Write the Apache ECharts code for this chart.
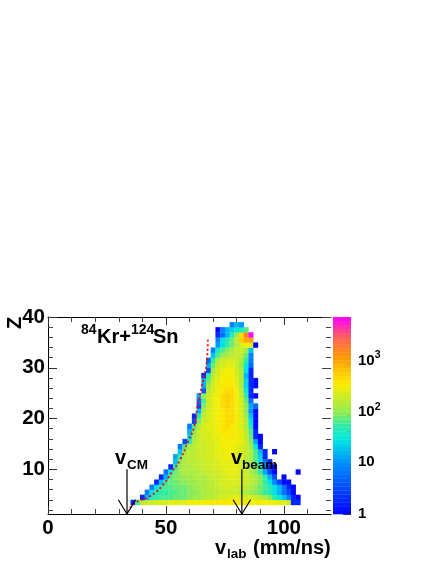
<!DOCTYPE html>
<html lang="en">
<head>
    <meta charset="UTF-8">
    <title>Kr+Sn</title>
    <script src="https://cdn.jsdelivr.net/npm/echarts@6/dist/echarts.min.js"></script>
    <style>
        html, body { margin: 0; padding: 0; background: #fff; }
    </style>
</head>
<body>
<div id="main" style="width: 436px; height: 564px"></div>
<script type="text/javascript">
    // bins are 2 mm/ns wide and one Z high, first bin of each row in rowStart
    var rowZ = [3, 4, 5, 6, 7, 8, 9, 10, 11, 12, 13, 14, 15, 16, 17, 18, 19, 20, 21, 22, 23, 24, 25, 26, 27, 28, 29, 30, 31, 32, 33, 34, 35, 36, 37, 38];
    var rowStart = [35, 39, 41, 43, 45, 47, 49, 51, 53, 53, 55, 55, 57, 59, 59, 59, 61, 61, 63, 63, 63, 63, 65, 65, 65, 65, 67, 67, 67, 69, 69, 71, 71, 71, 71, 77];
    var rowCounts = [
        [2, 60, 140, 170, 190, 210, 220, 230, 240, 250, 260, 270, 280, 290, 300, 310, 320, 330, 330, 340, 340, 350, 340, 340, 330, 320, 320, 310, 300, 290, 280, 270, 260, 170, 2, 2],
        [2, 14, 45, 55, 60, 60, 65, 70, 75, 80, 90, 100, 110, 125, 140, 160, 180, 200, 220, 240, 240, 230, 220, 210, 190, 160, 125, 85, 55, 33, 18, 7, 2, 1],
        [8, 25, 45, 50, 55, 60, 65, 70, 75, 85, 95, 105, 120, 135, 145, 160, 170, 175, 175, 165, 150, 130, 110, 90, 70, 55, 40, 25, 14, 6, 3, 1],
        [8, 28, 50, 60, 65, 70, 75, 80, 85, 100, 110, 125, 140, 155, 170, 185, 195, 195, 185, 165, 145, 125, 100, 80, 60, 42, 28, 16, 6, 2, 1],
        [2, 18, 55, 75, 80, 85, 95, 100, 110, 120, 130, 145, 160, 180, 200, 215, 225, 215, 195, 170, 145, 115, 85, 50, 25, 9, 3, 1, 1],
        [2, 16, 60, 85, 95, 100, 110, 120, 125, 135, 150, 165, 180, 200, 225, 235, 225, 200, 170, 145, 115, 85, 50, 16, 4, 0, 1],
        [6, 30, 75, 105, 115, 125, 135, 140, 150, 165, 180, 200, 225, 245, 250, 235, 205, 170, 135, 95, 55, 12, 3, 1, 0, 0, 0, 0, 1],
        [2, 50, 100, 125, 135, 145, 155, 165, 180, 195, 215, 240, 260, 265, 245, 215, 175, 135, 90, 45, 8, 2, 1],
        [18, 85, 125, 140, 150, 160, 170, 185, 205, 225, 250, 270, 265, 235, 190, 150, 110, 65, 25, 6, 2],
        [12, 50, 115, 140, 155, 165, 180, 195, 220, 240, 265, 285, 280, 245, 200, 160, 115, 65, 20, 2],
        [18, 100, 140, 155, 165, 180, 195, 220, 245, 270, 295, 290, 255, 210, 170, 120, 65, 16, 2, 0, 1],
        [7, 60, 130, 160, 175, 190, 205, 230, 255, 285, 305, 300, 265, 220, 170, 105, 32, 2],
        [3, 42, 135, 170, 190, 205, 225, 250, 285, 320, 325, 285, 235, 170, 85, 12, 1],
        [20, 110, 170, 200, 215, 235, 265, 300, 335, 340, 300, 240, 170, 80, 2, 1],
        [15, 90, 170, 205, 225, 250, 285, 330, 370, 360, 310, 240, 150, 60, 2],
        [7, 60, 160, 205, 235, 265, 310, 360, 400, 385, 320, 230, 130, 40, 1],
        [3, 85, 185, 225, 260, 300, 360, 410, 400, 325, 235, 120, 28, 1],
        [2, 50, 160, 215, 250, 300, 375, 440, 420, 330, 225, 105, 18, 1],
        [15, 135, 205, 250, 310, 390, 460, 430, 325, 215, 90, 10, 1],
        [3, 90, 190, 240, 310, 400, 470, 440, 320, 205, 85, 12, 5],
        [5, 60, 180, 240, 310, 410, 480, 450, 320, 195, 70, 6],
        [12, 100, 190, 250, 320, 410, 470, 440, 305, 170, 50, 2, 1],
        [4, 145, 225, 295, 380, 430, 400, 280, 150, 30, 2],
        [12, 110, 205, 270, 340, 390, 370, 260, 130, 22, 2, 1],
        [14, 75, 180, 250, 315, 350, 340, 235, 120, 22, 2, 1],
        [2, 50, 155, 230, 285, 320, 310, 220, 115, 15, 2],
        [4, 110, 200, 255, 285, 280, 205, 115, 25, 2],
        [12, 75, 165, 220, 245, 250, 190, 105, 32, 5],
        [5, 50, 115, 165, 200, 220, 180, 120, 50, 8],
        [18, 60, 100, 130, 160, 175, 150, 80, 7],
        [8, 35, 65, 95, 125, 165, 165, 100, 18],
        [10, 28, 55, 80, 125, 195, 300, 250, 1],
        [8, 25, 45, 70, 140, 500, 800, 1000],
        [2, 5, 14, 40, 100, 400, 1500, 6000],
        [1, 7, 16, 22, 30, 45, 60],
        [8, 14, 10]
    ];
    var binWidth = 2;

    // red dotted curve, [v, Z]
    var curvePoints = [[33.9, 1.6], [36.9, 3.4], [43.2, 4.7], [48.7, 6.9], [52.5, 9.5], [55.9, 11.8], [59.3, 15.4], [61.9, 18.3], [63.6, 23], [65.7, 27.4], [67.4, 31.5], [67.8, 35.9]];

    // arrows at vCM and vbeam
    var vCM = 33.5;
    var vBeam = 82.2;
    var arrowTopZ = 10;
    var arrowArmZ = 4;
    var arrowArmV = 3.7;

    var xRange = [0, 120];
    var yRange = [1.2, 40];
    var zRange = [1, 6500];
    var xMajor = [0, 50, 100];
    var xMinor = [10, 20, 30, 40, 60, 70, 80, 90, 110];
    var yMajor = [10, 20, 30, 40];
    var yMinor = [2, 4, 6, 8, 12, 14, 16, 18, 22, 24, 26, 28, 32, 34, 36, 38];
    var zMajor = [1, 10, 100, 1000];
    var zMinor = [2, 3, 4, 5, 6, 7, 8, 9, 20, 30, 40, 50, 60, 70, 80, 90, 200, 300, 400, 500, 600, 700, 800, 900, 2000, 3000, 4000, 5000, 6000];

    var colorPos = [0, 0.26, 0.38, 0.45, 0.52, 0.66, 0.8, 0.9, 1];
    var colorStops = [[0, 0, 255], [0, 144, 255], [0, 232, 224], [48, 235, 165], [150, 235, 80], [250, 238, 0], [255, 150, 0], [255, 96, 96], [255, 0, 255]];
    var nLevels = 50;

    function levelColor(level) {
        var t = (level + 0.5) / nLevels;
        var i = 0;
        while (i < colorPos.length - 2 && t > colorPos[i + 1]) i++;
        var f = (t - colorPos[i]) / (colorPos[i + 1] - colorPos[i]);
        var a = colorStops[i], b = colorStops[i + 1];
        return 'rgb(' + Math.round(a[0] + (b[0] - a[0]) * f) + ',' + Math.round(a[1] + (b[1] - a[1]) * f) + ',' + Math.round(a[2] + (b[2] - a[2]) * f) + ')';
    }
    function countColor(v) {
        var level = Math.floor(Math.log10(v) / Math.log10(zRange[1]) * nLevels);
        return levelColor(Math.min(nLevels - 1, Math.max(0, level)));
    }

    var cells = [];
    rowZ.forEach(function (z, r) {
        rowCounts[r].forEach(function (n, i) {
            if (n > 0) cells.push([rowStart[r] + i * binWidth, z, n]);
        });
    });
    var barLevels = [];
    for (var l = 0; l < nLevels; l++) {
        barLevels.push([l, Math.pow(zRange[1], l / nLevels), Math.pow(zRange[1], (l + 1) / nLevels)]);
    }

    var fontName = '"Liberation Sans", Arial, sans-serif';
    function tickAxis(pos, range, major, values, len, grid, label) {
        var axis = {
            type: 'value', position: pos, gridIndex: grid || 0, min: range[0], max: range[1],
            splitLine: { show: false },
            axisLine: { show: major, onZero: false, lineStyle: { color: '#000', width: 1 } },
            axisTick: { show: true, inside: true, length: len, customValues: values, lineStyle: { color: major ? '#333' : '#444', width: 1 } },
            axisLabel: { show: false }
        };
        if (label) {
            axis.axisLabel = { show: true, customValues: values, color: '#000', fontFamily: fontName, fontWeight: 'bold', fontSize: 20.5, margin: label, hideOverlap: false };
        }
        return axis;
    }

    var zAxis = tickAxis('right', zRange, false, zMajor, 8, 1, 7);
    zAxis.type = 'log';
    zAxis.axisLabel.fontSize = 15;
    zAxis.axisLabel.formatter = function (v) {
        if (v < 100) return '' + v;
        return '{b|10}{s|' + Math.round(Math.log10(v)) + '}';
    };
    zAxis.axisLabel.rich = {
        b: { fontFamily: fontName, fontWeight: 'bold', fontSize: 15, color: '#000', padding: [3, 0, 0, 0] },
        s: { fontFamily: fontName, fontWeight: 'bold', fontSize: 10.5, color: '#000', verticalAlign: 'top' }
    };
    var zAxisMinor = tickAxis('right', zRange, false, zMinor, 4, 1);
    zAxisMinor.type = 'log';

    function txt(str, x, y, size, rot) {
        return {
            type: 'text', x: x, y: y, rotation: rot || 0, z: 20,
            style: { text: str, fill: '#000', fontFamily: fontName, fontWeight: 'bold', fontSize: size, textAlign: 'left', textVerticalAlign: 'middle' }
        };
    }
    function lineSeries(pts, color, width, type, smooth) {
        return {
            type: 'line', data: pts, symbol: 'none', smooth: !!smooth, clip: false, silent: true, z: 5,
            lineStyle: { color: color, width: width, type: type || 'solid' }
        };
    }

    var myChart = echarts.init(document.getElementById('main'));
    var option = {
        animation: false,
        backgroundColor: '#fff',
        grid: [
            { left: 48, top: 317, width: 283, height: 197 },
            { left: 333, top: 317, width: 18, height: 197 }
        ],
        xAxis: [
            tickAxis('bottom', xRange, true, xMajor, 8, 0, 4),
            tickAxis('bottom', xRange, false, xMinor, 5),
            tickAxis('top', xRange, true, xMajor, 8),
            tickAxis('top', xRange, false, xMinor, 5),
            { type: 'value', gridIndex: 1, min: 0, max: 1, show: false }
        ],
        yAxis: [
            tickAxis('left', yRange, true, yMajor, 9, 0, 3),
            tickAxis('left', yRange, false, yMinor, 5),
            tickAxis('right', yRange, false, yMajor, 9),
            tickAxis('right', yRange, false, yMinor, 5),
            zAxis,
            zAxisMinor
        ],
        series: [
            {
                type: 'custom', silent: true, clip: true, data: cells, encode: { x: 0, y: 1 },
                renderItem: function (params, api) {
                    var a = api.coord([api.value(0), api.value(1)]);
                    var b = api.coord([api.value(0) + binWidth, api.value(1) + 1]);
                    return {
                        type: 'rect',
                        shape: { x: a[0], y: b[1], width: b[0] - a[0] + 0.3, height: a[1] - b[1] + 0.3 },
                        style: { fill: countColor(api.value(2)) }
                    };
                }
            },
            lineSeries(curvePoints, '#f00', 1.8, [2, 2.5], true),
            lineSeries([[vCM, arrowTopZ], [vCM, yRange[0]]], '#000', 1.2),
            lineSeries([[vCM - arrowArmV, arrowArmZ], [vCM, yRange[0]], [vCM + arrowArmV, arrowArmZ]], '#000', 1.2),
            lineSeries([[vBeam, arrowTopZ], [vBeam, yRange[0]]], '#000', 1.2),
            lineSeries([[vBeam - arrowArmV, arrowArmZ], [vBeam, yRange[0]], [vBeam + arrowArmV, arrowArmZ]], '#000', 1.2),
            {
                type: 'custom', silent: true, xAxisIndex: 4, yAxisIndex: 4, data: barLevels, encode: { y: [1, 2] },
                renderItem: function (params, api) {
                    var a = api.coord([0, api.value(1)]);
                    var b = api.coord([1, api.value(2)]);
                    return {
                        type: 'rect',
                        shape: { x: a[0], y: b[1], width: b[0] - a[0], height: a[1] - b[1] + 0.3 },
                        style: { fill: levelColor(api.value(0)) }
                    };
                }
            }
        ],
        graphic: [
            txt('Z', 15, 329, 20, Math.PI / 2),
            txt('84', 81, 330, 14),
            txt('Kr+', 97, 337, 20),
            txt('124', 131, 330, 14),
            txt('Sn', 153, 337, 20),
            txt('v', 115, 458, 20),
            txt('CM', 127, 465, 13.5),
            txt('v', 231, 458, 20),
            txt('beam', 242, 465, 13.5),
            txt('v', 215, 548, 20),
            txt('lab', 227, 554, 13.5),
            txt('(mm/ns)', 253, 548, 20)
        ]
    };
    myChart.setOption(option);
</script>
</body>
</html>
